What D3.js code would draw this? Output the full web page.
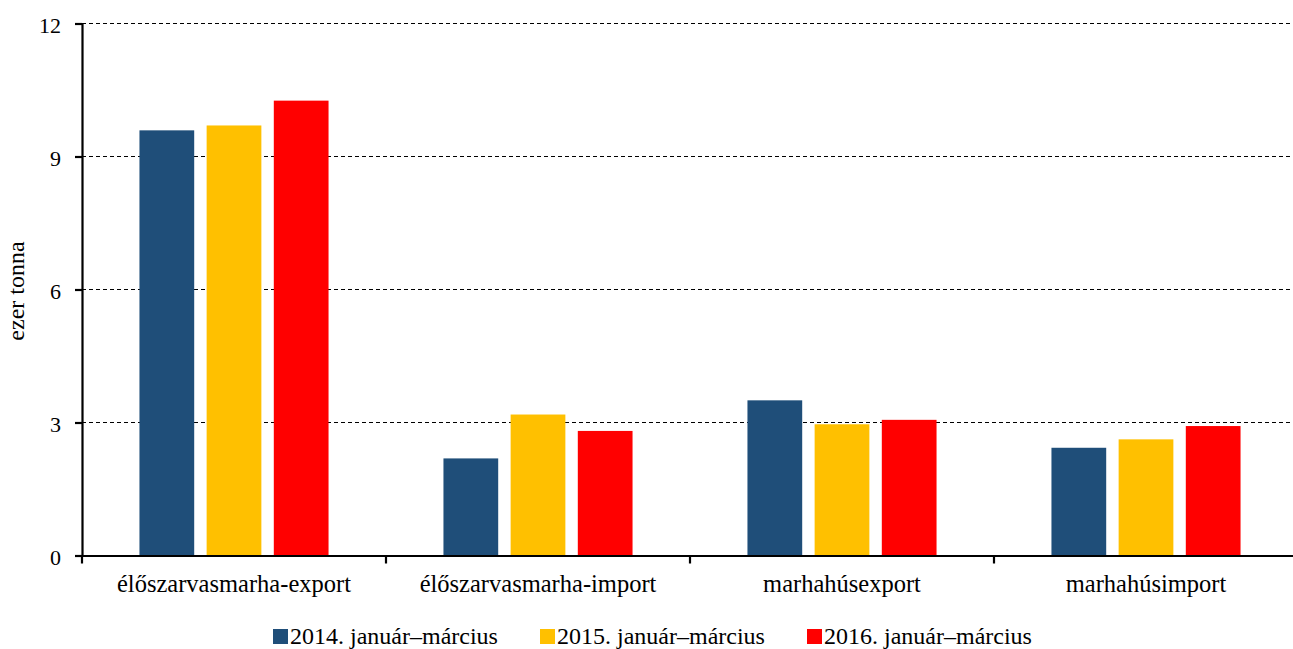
<!DOCTYPE html>
<html>
<head>
<meta charset="utf-8">
<script src="https://cdn.jsdelivr.net/npm/d3@7"></script>
<style>
  body { margin: 0; background: #fff; }
</style>
</head>
<body>
<div id="chart"></div>
<script>
const categories = ["élőszarvasmarha-export", "élőszarvasmarha-import", "marhahúsexport", "marhahúsimport"];
const seriesNames = ["2014. január–március", "2015. január–március", "2016. január–március"];
const values2014 = [9.59, 2.19, 3.50, 2.43];
const values2015 = [9.70, 3.18, 2.96, 2.62];
const values2016 = [10.26, 2.81, 3.06, 2.92];
const yTicks = [0, 3, 6, 9, 12];
const colors = ["#1F4E79", "#FFC000", "#FF0000"];

const seriesValues = [values2014, values2015, values2016];
const font = "'Liberation Serif', 'Times New Roman', serif";
const margin = {top: 23.5, right: -5, bottom: 93.5, left: 82};
const W = 1293, H = 649;
const width = W - margin.left - margin.right,
      height = H - margin.top - margin.bottom;

const svg = d3.select("#chart").append("svg")
    .attr("width", W)
    .attr("height", H)
    .style("font-family", font)
  .append("g")
    .attr("transform", "translate(" + margin.left + "," + margin.top + ")");

const x0 = d3.scaleBand().domain(categories).range([0, width]);
const x1 = d3.scaleBand().domain(seriesNames)
    .range([x0.bandwidth() * 0.189, x0.bandwidth() * 0.811])
    .paddingInner(0.185);
const y = d3.scaleLinear().domain([0, 12]).range([height, 0]);

// gridlines
svg.selectAll(".grid")
  .data(yTicks.filter(d => d > 0))
  .enter().append("line")
    .attr("x1", 0).attr("x2", width)
    .attr("y1", d => y(d)).attr("y2", d => y(d))
    .attr("stroke", "#000")
    .attr("stroke-width", 1)
    .attr("stroke-dasharray", "4,3");

// bars
categories.forEach((cat, i) => {
  seriesNames.forEach((s, j) => {
    svg.append("rect")
      .attr("x", x0(cat) + x1(s))
      .attr("y", y(seriesValues[j][i]))
      .attr("width", x1.bandwidth())
      .attr("height", height - y(seriesValues[j][i]))
      .attr("fill", colors[j]);
  });
});

// y axis
const yAxis = svg.append("g")
  .call(d3.axisLeft(y).tickValues(yTicks).tickSize(7).tickPadding(14).tickFormat(d3.format("d")));
yAxis.attr("font-family", null).attr("font-size", null);
yAxis.select(".domain").attr("stroke-width", 2.2);
yAxis.selectAll(".tick line").attr("stroke-width", 2.2);
yAxis.selectAll(".tick text")
  .style("font-family", font).style("font-size", "22px").attr("dy", "0.4em");

// x axis
const xAxis = svg.append("g")
  .attr("transform", "translate(0," + height + ")")
  .call(d3.axisBottom(x0).tickSize(0).tickPadding(19));
xAxis.attr("font-family", null).attr("font-size", null);
xAxis.select(".domain").attr("stroke-width", 2.2);
xAxis.selectAll(".tick text")
  .style("font-family", font).style("font-size", "24.5px");
xAxis.selectAll(".sep")
  .data(categories)
  .enter().append("line")
    .attr("x1", d => x0(d)).attr("x2", d => x0(d))
    .attr("y1", 0).attr("y2", 8)
    .attr("stroke", "#000").attr("stroke-width", 2.2);

// y title
svg.append("text")
  .attr("transform", "rotate(-90)")
  .attr("x", -267.5)
  .attr("y", -58)
  .attr("text-anchor", "middle")
  .style("font-family", font)
  .style("font-size", "24px")
  .text("ezer tonna");

// legend
const legendX = [273, 540, 807];
const legend = d3.select("svg").append("g");
seriesNames.forEach((s, j) => {
  legend.append("rect")
    .attr("x", legendX[j]).attr("y", 629)
    .attr("width", 15).attr("height", 15)
    .attr("fill", colors[j]);
  legend.append("text")
    .attr("x", legendX[j] + 17).attr("y", 644)
    .style("font-family", font)
    .style("font-size", "24px")
    .text(s);
});
</script>
</body>
</html>
